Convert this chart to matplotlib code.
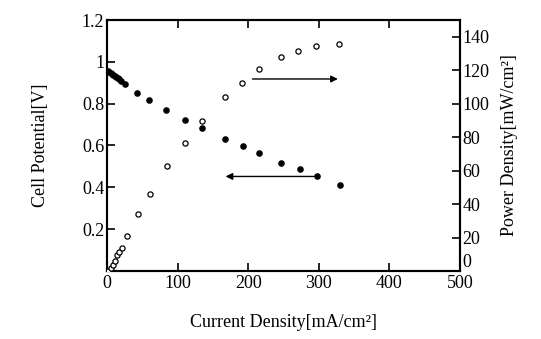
# cell potential and power density vs current density

import matplotlib
matplotlib.use("Agg")
import matplotlib.pyplot as plt

plt.rcParams['font.family'] = ['Liberation Serif', 'DejaVu Serif']

# current density [mA/cm2] and cell potential [V]
cur_v = [1, 3, 5, 7, 9, 11, 13, 15, 17, 20, 25, 42, 59, 84, 110, 135, 167, 192, 216, 247, 273, 298, 330]
volt = [0.958, 0.952, 0.947, 0.942, 0.937, 0.932, 0.927, 0.922, 0.917, 0.91, 0.893, 0.851, 0.819, 0.771,
        0.724, 0.682, 0.632, 0.597, 0.563, 0.518, 0.486, 0.454, 0.411]

# current density [mA/cm2] and power density [mW/cm2]
cur_p = [1.8, 5.2, 8, 11.3, 14.6, 17.4, 20.8, 28.3, 44, 61, 85, 110.5, 134.6, 166.7, 190.8, 215, 246.5, 271, 295.6, 328.6]
power = [0, 1.6, 3.5, 6, 9.4, 11.4, 13.7, 20.8, 34, 46, 63, 76.6, 89.4, 103.7, 112.5, 120.8, 128, 131.6, 134.3, 135.5]

left_ticks = [0.2, 0.4, 0.6, 0.8, 1.0, 1.2]
left_labels = ["0.2", "0.4", "0.6", "0.8", "1", "1.2"]
right_ticks = [0, 20, 40, 60, 80, 100, 120, 140]
x_ticks = [0, 100, 200, 300, 400, 500]

fig = plt.figure(figsize=(5.41, 3.39), dpi=100)
ax = fig.add_axes([0.198, 0.2006, 0.652, 0.7404])
ax2 = ax.twinx()

ax.scatter(cur_v, volt, s=14, color="black", zorder=3)
ax2.scatter(cur_p, power, s=14, facecolor="white", edgecolor="black", linewidth=0.9, zorder=3)

ax.set_xlim(0, 500)
ax.set_ylim(0, 1.2)
ax2.set_ylim(0, 150)

ax.set_xticks(x_ticks)
ax.set_yticks(left_ticks)
ax.set_yticklabels(left_labels)
ax2.set_yticks(right_ticks)

ax.tick_params(direction="in", length=6, width=1.2, labelsize=13, top=True, pad=2)
ax2.tick_params(direction="in", length=6, width=1.2, labelsize=13, pad=2)
ax.tick_params(axis="x", pad=3)
for a in (ax, ax2):
    for s in a.spines.values():
        s.set_linewidth(1.5)

# right "0" sits just above the "500" label as in the original
ax2.get_yticklabels()[0].set_verticalalignment("bottom")

# arrows pointing to the axis each series belongs to
ax.annotate("", xy=(164, 0.452), xytext=(298, 0.452),
            arrowprops=dict(arrowstyle="-|>", color="black", lw=1.0, mutation_scale=10))
ax.annotate("", xy=(331, 0.918), xytext=(202, 0.918),
            arrowprops=dict(arrowstyle="-|>", color="black", lw=1.0, mutation_scale=10))

ax.set_xlabel("Current Density[mA/cm²]", fontsize=13, labelpad=16)
ax.set_ylabel("Cell Potential[V]", fontsize=13, labelpad=24)
ax2.set_ylabel("Power Density[mW/cm²]", fontsize=13, labelpad=8)

fig.savefig("out.png", dpi=100)
plt.close()
